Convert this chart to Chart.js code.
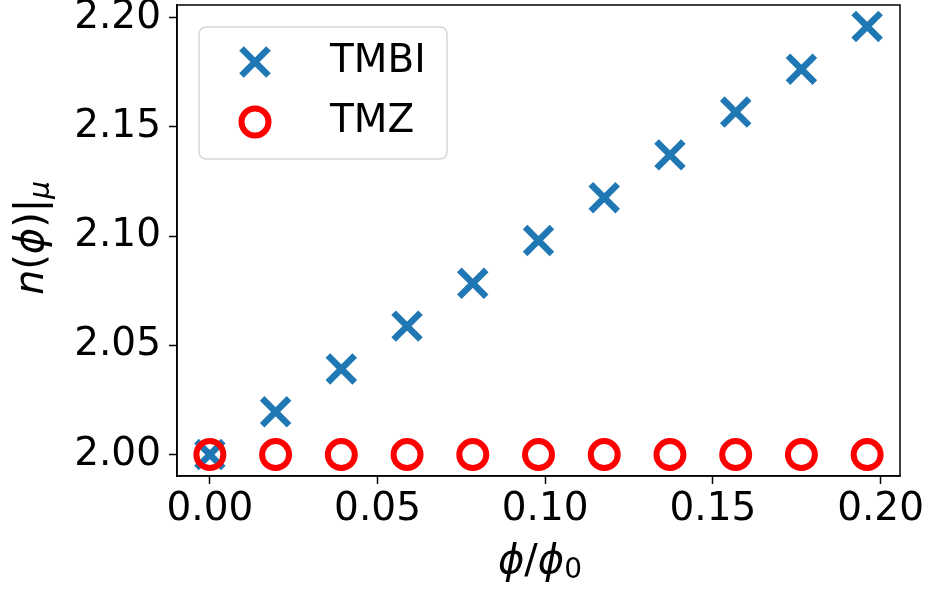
<!DOCTYPE html>
<html lang="en">
<head>
    <meta charset="UTF-8">
    <title>n(phi) vs phi/phi0</title>
    <script src="https://cdn.jsdelivr.net/npm/chart.js"></script>
    <style>
        body { margin: 0; background: #fff; }
    </style>
</head>
<body>
    <canvas id="myChart" width="928" height="591"></canvas>

    <script>
        // data
        const phiRatio = [0.0000, 0.0196, 0.0392, 0.0588, 0.0784, 0.0980, 0.1176, 0.1372, 0.1568, 0.1764, 0.1960];
        const tmbiValues = [2.0000, 2.0196, 2.0392, 2.0588, 2.0784, 2.0980, 2.1176, 2.1372, 2.1568, 2.1764, 2.1960];
        const tmzValues = [2.000, 2.000, 2.000, 2.000, 2.000, 2.000, 2.000, 2.000, 2.000, 2.000, 2.000];
        const xTicks = [0.00, 0.05, 0.10, 0.15, 0.20];
        const yTicks = [2.00, 2.05, 2.10, 2.15, 2.20];

        const FONT = 'DejaVu Sans';
        const BLUE = '#1f77b4';
        const RED = '#ff0000';

        const toPoints = (xs, ys) => xs.map((x, i) => ({ x: x, y: ys[i] }));

        // draw a row of text pieces with different fonts, centred on (cx, cy)
        function drawPieces(ctx, pieces, cx, cy) {
            let total = 0;
            pieces.forEach(p => {
                ctx.font = p.font;
                p.w = ctx.measureText(p.text).width;
                total += p.w + (p.gap || 0);
            });
            let x = cx - total / 2;
            ctx.textBaseline = 'middle';
            ctx.textAlign = 'left';
            pieces.forEach(p => {
                ctx.font = p.font;
                ctx.fillText(p.text, x, cy + (p.dy || 0));
                x += p.w + (p.gap || 0);
            });
        }

        // stop the scales from adding their own label overflow padding
        const noPad = (scale) => {
            scale.paddingTop = 0;
            scale.paddingBottom = 0;
            scale.paddingLeft = 0;
            scale.paddingRight = 0;
        };

        const decorPlugin = {
            id: 'decor',
            afterDraw: (chart) => {
                const { ctx, chartArea: a } = chart;
                ctx.save();

                // full frame like matplotlib
                ctx.strokeStyle = '#000';
                ctx.lineWidth = 1.5;
                ctx.strokeRect(a.left, a.top, a.right - a.left, a.bottom - a.top);

                ctx.fillStyle = '#000';
                // x title: phi/phi_0
                drawPieces(ctx, [
                    { text: 'ϕ', font: `oblique 40px ${FONT}` },
                    { text: '/', font: `40px ${FONT}` },
                    { text: 'ϕ', font: `oblique 40px ${FONT}` },
                    { text: '0', font: `28px ${FONT}`, dy: 8 }
                ], 540, 563);

                // y title: n(phi)|_mu, rotated
                ctx.save();
                ctx.translate(33, 238);
                ctx.rotate(-Math.PI / 2);
                drawPieces(ctx, [
                    { text: 'n', font: `oblique 40px ${FONT}` },
                    { text: '(', font: `40px ${FONT}` },
                    { text: 'ϕ', font: `oblique 40px ${FONT}` },
                    { text: ')', font: `40px ${FONT}` },
                    { text: '|', font: `40px ${FONT}` },
                    { text: 'μ', font: `oblique 28px ${FONT}`, dy: 9 }
                ], 0, 0);
                ctx.restore();

                // legend box
                const lx = 199, ly = 27, lw = 248, lh = 132, r = 7;
                ctx.beginPath();
                ctx.roundRect(lx, ly, lw, lh, r);
                ctx.fillStyle = 'rgba(255,255,255,0.8)';
                ctx.fill();
                ctx.strokeStyle = '#d6d6d6';
                ctx.lineWidth = 1.5;
                ctx.stroke();

                // cross marker
                ctx.strokeStyle = BLUE;
                ctx.lineWidth = 6.5;
                ctx.beginPath();
                ctx.moveTo(255 - 13.5, 62 - 13.5); ctx.lineTo(255 + 13.5, 62 + 13.5);
                ctx.moveTo(255 - 13.5, 62 + 13.5); ctx.lineTo(255 + 13.5, 62 - 13.5);
                ctx.stroke();

                // circle marker
                ctx.strokeStyle = RED;
                ctx.lineWidth = 6;
                ctx.beginPath();
                ctx.arc(255, 122, 13.5, 0, Math.PI * 2);
                ctx.stroke();

                ctx.fillStyle = '#000';
                ctx.font = `39px ${FONT}`;
                ctx.textAlign = 'left';
                ctx.textBaseline = 'middle';
                ctx.fillText('TMBI', 330, 62);
                ctx.fillText('TMZ', 330, 122);

                ctx.restore();
            }
        };

        const config = {
            type: 'scatter',
            data: {
                datasets: [
                    {
                        label: 'TMBI',
                        data: toPoints(phiRatio, tmbiValues),
                        pointStyle: 'crossRot',
                        pointRadius: 19,
                        pointHoverRadius: 19,
                        pointBorderWidth: 6.5,
                        borderColor: BLUE,
                        backgroundColor: BLUE,
                        order: 1
                    },
                    {
                        label: 'TMZ',
                        data: toPoints(phiRatio, tmzValues),
                        pointStyle: 'circle',
                        pointRadius: 13.5,
                        pointHoverRadius: 13.5,
                        pointBorderWidth: 6,
                        borderColor: RED,
                        backgroundColor: 'rgba(0,0,0,0)',
                        order: 0
                    }
                ]
            },
            options: {
                responsive: false,
                animation: false,
                events: [],
                layout: { autoPadding: false, padding: { left: 0, right: 28, top: 5, bottom: 0 } },
                plugins: {
                    legend: { display: false },
                    tooltip: { enabled: false }
                },
                scales: {
                    x: {
                        type: 'linear',
                        min: -0.0098,
                        max: 0.2058,
                        afterBuildTicks: (scale) => { scale.ticks = xTicks.map(v => ({ value: v })); },
                        afterFit: (scale) => { scale.height = 115; noPad(scale); },
                        grid: { display: true, drawOnChartArea: false, drawTicks: true, tickLength: 8, tickColor: '#000', tickWidth: 1.5 },
                        border: { display: true, color: '#000', width: 1.5 },
                        ticks: {
                            color: '#000',
                            font: { family: FONT, size: 39 },
                            padding: 2,
                            maxRotation: 0,
                            autoSkip: false,
                            callback: (v) => v.toFixed(2)
                        }
                    },
                    y: {
                        type: 'linear',
                        min: 1.9902,
                        max: 2.2058,
                        afterBuildTicks: (scale) => { scale.ticks = yTicks.map(v => ({ value: v })); },
                        afterFit: (scale) => { scale.width = 177; noPad(scale); },
                        grid: { display: true, drawOnChartArea: false, drawTicks: true, tickLength: 8, tickColor: '#000', tickWidth: 1.5 },
                        border: { display: true, color: '#000', width: 1.5 },
                        ticks: {
                            color: '#000',
                            font: { family: FONT, size: 39 },
                            padding: 8,
                            autoSkip: false,
                            callback: (v) => v.toFixed(2)
                        }
                    }
                }
            },
            plugins: [decorPlugin]
        };

        new Chart(document.getElementById('myChart').getContext('2d'), config);
    </script>
</body>
</html>
